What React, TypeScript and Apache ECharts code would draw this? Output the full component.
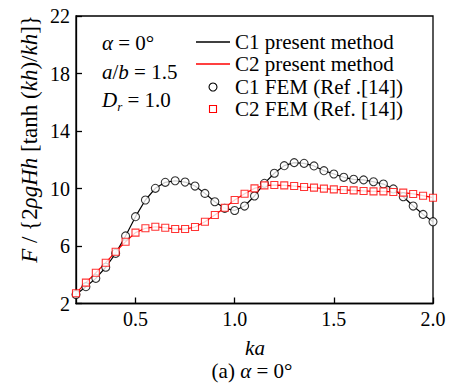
import React, { useEffect, useRef } from "react";
import * as echarts from "echarts";

const ka = [0.2,0.25,0.3,0.35,0.4,0.45,0.5,0.55,0.6,0.65,0.7,0.75,0.8,0.85,0.9,0.95,1.0,1.05,1.1,1.15,1.2,1.25,1.3,1.35,1.4,1.45,1.5,1.55,1.6,1.65,1.7,1.75,1.8,1.85,1.9,1.95,2.0];
const c1 = [2.62,3.17,3.75,4.52,5.49,6.7,8.04,9.2,10.01,10.43,10.54,10.45,10.17,9.66,9.08,8.62,8.47,8.78,9.48,10.36,11.06,11.59,11.8,11.75,11.57,11.24,11.01,10.78,10.64,10.6,10.47,10.31,9.97,9.43,8.78,8.2,7.69];
const c2 = [2.71,3.45,4.14,4.84,5.6,6.3,6.93,7.23,7.34,7.27,7.18,7.18,7.32,7.69,8.16,8.66,9.2,9.64,10.01,10.22,10.24,10.22,10.17,10.1,10.06,9.99,9.94,9.9,9.87,9.83,9.8,9.8,9.76,9.71,9.62,9.5,9.36];
const xTicks = [0.5, 1.0, 1.5, 2.0];
const yTicks = [2, 6, 10, 14, 18, 22];
const names = ["C1 present method", "C2 present method", "C1 FEM (Ref .[14])", "C2 FEM (Ref. [14])"];

const FONT = "'Liberation Serif', 'Times New Roman', serif";
const RED = "#ff0000";

export default function App() {
  const ref = useRef<HTMLDivElement>(null);
  useEffect(() => {
    const chart = echarts.init(ref.current!, null, { renderer: "svg" });
    const pts = (ys: number[]) => ka.map((x, i) => [x, ys[i]]);
    const base = { fontFamily: FONT, fontSize: 20, color: "#000" };
    const t21 = { fontFamily: FONT, fontSize: 21, fill: "#000" };
    const it21 = { fontFamily: FONT, fontSize: 21, color: "#000", fontStyle: "italic" };
    const legendRows = [42, 64, 87, 109];
    const lx = 196, lw = 34, tx = 235;
    chart.setOption({
      animation: false,
      backgroundColor: "#fff",
      grid: { left: 76, top: 16, right: 20, bottom: 87.5, show: true, borderColor: "#000", borderWidth: 1.3 },
      xAxis: {
        type: "value", min: 0.2, max: 2.0,
        axisLine: { lineStyle: { color: "#000", width: 1.3 } },
        axisTick: { inside: true, length: 6, customValues: xTicks, lineStyle: { color: "#000", width: 1.3 } },
        axisLabel: { customValues: xTicks, formatter: (v: number) => v.toFixed(1), ...base, margin: 5 },
        splitLine: { show: false },
      },
      yAxis: {
        type: "value", min: 2, max: 22,
        axisLine: { lineStyle: { color: "#000", width: 1.3 } },
        axisTick: { inside: true, length: 6, customValues: yTicks, lineStyle: { color: "#000", width: 1.3 } },
        axisLabel: { customValues: yTicks, ...base, margin: 6 },
        splitLine: { show: false },
      },
      series: [
        { name: names[0], type: "line", data: pts(c1), showSymbol: false, symbol: "none", lineStyle: { color: "#000", width: 1.2 }, itemStyle: { color: "#000" }, z: 2 },
        { name: names[1], type: "line", data: pts(c2), showSymbol: false, symbol: "none", lineStyle: { color: RED, width: 1.2 }, itemStyle: { color: RED }, z: 2 },
        { name: names[2], type: "scatter", data: pts(c1), symbol: "circle", symbolSize: 8, itemStyle: { color: "#fff", borderColor: "#000", borderWidth: 1.1 }, z: 3 },
        { name: names[3], type: "scatter", data: pts(c2), symbol: "rect", symbolSize: 7, itemStyle: { color: "#fff", borderColor: RED, borderWidth: 1.1 }, z: 4 },
      ],
      graphic: [
        // legend
        { type: "line", shape: { x1: lx, y1: legendRows[0], x2: lx + lw, y2: legendRows[0] }, style: { stroke: "#000", lineWidth: 1.3 } },
        { type: "line", shape: { x1: lx, y1: legendRows[1], x2: lx + lw, y2: legendRows[1] }, style: { stroke: RED, lineWidth: 1.3 } },
        { type: "circle", shape: { cx: lx + lw / 2, cy: legendRows[2], r: 4 }, style: { fill: "#fff", stroke: "#000", lineWidth: 1.1 } },
        { type: "rect", shape: { x: lx + lw / 2 - 3.5, y: legendRows[3] - 3.5, width: 7, height: 7 }, style: { fill: "#fff", stroke: RED, lineWidth: 1.1 } },
        ...names.map((n, i) => ({ type: "text", x: tx, y: legendRows[i], style: { text: n, ...t21, textVerticalAlign: "middle" } })),
        // annotations
        { type: "text", x: 102, y: 43, style: { text: "{i|α} = 0°", ...t21, textVerticalAlign: "middle", rich: { i: it21 } } },
        { type: "text", x: 102, y: 72, style: { text: "{i|a}/{i|b} = 1.5", ...t21, textVerticalAlign: "middle", rich: { i: it21 } } },
        { type: "text", x: 102, y: 100, style: { text: "{i|D}{s|r} = 1.0", ...t21, textVerticalAlign: "middle", rich: { i: it21, s: { ...it21, fontSize: 13, padding: [12, 0, 0, 0] } } } },
        { type: "text", x: 29, y: 139, rotation: Math.PI / 2, style: { text: "{i|F} / {2{i|ρgHh} [tanh ({i|kh})/{i|kh}]}", fontFamily: FONT, fontSize: 23, fill: "#000", textAlign: "center", textVerticalAlign: "middle", rich: { i: { ...it21, fontSize: 23 } } } },
        { type: "text", x: 255, y: 348, style: { text: "ka", ...t21, fontStyle: "italic", textAlign: "center", textVerticalAlign: "middle" } },
        { type: "text", x: 252, y: 371, style: { text: "(a) {i|α} = 0°", ...t21, textAlign: "center", textVerticalAlign: "middle", rich: { i: it21 } } },
      ],
    });
    return () => chart.dispose();
  }, []);
  return <div ref={ref} style={{ width: 453, height: 391, position: "absolute", left: 0, top: 0 }} />;
}
